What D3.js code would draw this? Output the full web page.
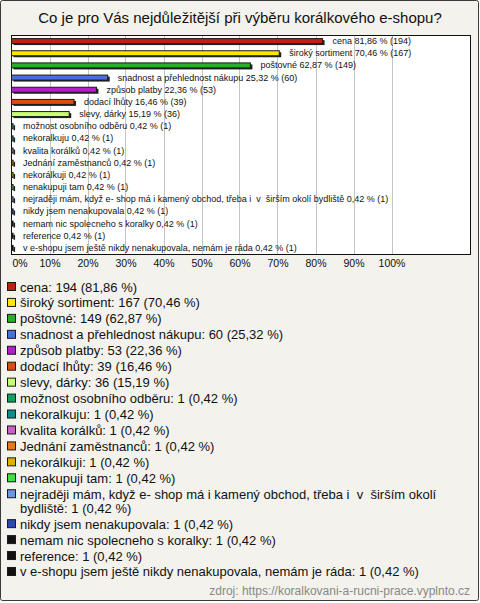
<!DOCTYPE html>
<html><head><meta charset="utf-8">
<script src="https://cdn.jsdelivr.net/npm/d3@7/dist/d3.min.js"></script>
<style>
html,body{margin:0;padding:0;background:#fff;}
svg text{font-family:"Liberation Sans",Arial,sans-serif;white-space:pre;}
</style></head><body>
<script>
const title = "Co je pro Vás nejdůležitější při výběru korálkového e-shopu?";
const categories = [
  "cena","široký sortiment","poštovné","snadnost a přehlednost nákupu","způsob platby",
  "dodací lhůty","slevy, dárky","možnost osobního odběru","nekoralkuju","kvalita korálků",
  "Jednání zaměstnanců","nekorálkuji","nenakupuji tam",
  "nejraději mám, když e- shop má i kamený obchod, třeba i  v  širším okolí bydliště",
  "nikdy jsem nenakupovala","nemam nic spolecneho s koralky","reference",
  "v e-shopu jsem ještě nikdy nenakupovala, nemám je ráda"
];
const counts = [194,167,149,60,53,39,36,1,1,1,1,1,1,1,1,1,1,1];
const percents = [81.86,70.46,62.87,25.32,22.36,16.46,15.19,0.42,0.42,0.42,0.42,0.42,0.42,0.42,0.42,0.42,0.42,0.42];
const colors = ["#c0200c","#ffe600","#22b322","#4a6ee0","#b020c8","#e04a10","#c8ff70","#10a060",
  "#108c8c","#c860c8","#e87818","#e0b000","#40e040","#6a98e0","#2848b0","#111111","#111111","#111111"];
const ticks = [0,10,20,30,40,50,60,70,80,90,100];
const source = "zdroj: https://koralkovani-a-rucni-prace.vyplnto.cz";

const W = 480, H = 603;
const fmt = v => v.toFixed(2).replace(".", ",");
const svg = d3.select("body").append("svg").attr("width", W).attr("height", H);

svg.append("rect").attr("x",0.5).attr("y",0.5).attr("width",W-2).attr("height",H-3)
  .attr("rx",2).attr("fill","#f3f2ec").attr("stroke","#3a3a3a");

svg.append("text").attr("x",W/2).attr("y",23).attr("text-anchor","middle")
  .attr("font-size",15).attr("fill","#111").text(title);

const box = {x0:11, x1:470, y0:35, y1:254};
svg.append("rect").attr("x",box.x0+0.5).attr("y",box.y0+0.5)
  .attr("width",box.x1-box.x0).attr("height",box.y1-box.y0)
  .attr("fill","#fff").attr("stroke","#111");

const x = d3.scaleLinear().domain([0,100]).range([box.x0+0.5, box.x0+380.5]);
const y = d3.scaleBand().domain(categories).range([box.y0, box.y1]).padding(0);

const g = svg.append("g");
g.selectAll("line.grid").data(ticks.filter(t=>t>0)).join("line")
  .attr("x1",d=>Math.round(x(d))+0.5).attr("x2",d=>Math.round(x(d))+0.5)
  .attr("y1",box.y0+1).attr("y2",box.y1)
  .attr("stroke","#c4c4c4");

const axis = d3.axisBottom(x).tickValues(ticks).tickSize(0).tickFormat(d=>d+"%");
const ax = svg.append("g").attr("transform",`translate(0,${box.y1+3})`).call(axis);
ax.select(".domain").remove();
ax.selectAll("text").attr("font-size",10.5).attr("fill","#111")
  .attr("font-family","Liberation Sans, Arial, sans-serif");
ax.selectAll(".tick").filter(d=>d===0).select("text").attr("text-anchor","start").attr("x",-x(0)+12);

const barH = 5;
const bars = g.selectAll("g.bar").data(categories).join("g");
bars.append("rect")
  .attr("x",x(0)+2).attr("y",(d,i)=>y(d)+y.bandwidth()/2-barH/2+1.5)
  .attr("width",(d,i)=>x(percents[i])-x(0)).attr("height",barH)
  .attr("fill","#222");
bars.append("rect")
  .attr("x",x(0)).attr("y",(d,i)=>y(d)+y.bandwidth()/2-barH/2)
  .attr("width",(d,i)=>x(percents[i])-x(0)).attr("height",barH)
  .attr("fill",(d,i)=>colors[i]).attr("stroke","#1a1a1a").attr("stroke-width",1);
bars.append("text")
  .attr("x",(d,i)=>x(percents[i])+10).attr("y",(d,i)=>y(d)+y.bandwidth()/2+3)
  .attr("font-size",9).attr("fill","#111")
  .text((d,i)=>`${d} ${fmt(percents[i])} % (${counts[i]})`);

// legend
const lg = svg.append("g");
let ly = 287;
const maxW = 448;
const wrapDy = 14;
const step = 15.94;
categories.forEach((c,i)=>{
  const label = `${c}: ${counts[i]} (${fmt(percents[i])} %)`;
  lg.append("rect").attr("x",7.5).attr("y",ly-4.5).attr("width",8).attr("height",8)
    .attr("fill",colors[i]).attr("stroke","#1a1a1a");
  const t = lg.append("text").attr("x",20).attr("y",ly+4.5).attr("font-size",13).attr("fill","#111");
  const words = label.split(" ");
  let line = [];
  let lines = [];
  const tmp = t.append("tspan");
  words.forEach(w=>{
    const test = line.concat([w]).join(" ");
    tmp.text(test);
    if (tmp.node().getComputedTextLength() > maxW && line.length) {
      lines.push(line.join(" ")); line = [w];
    } else line.push(w);
  });
  lines.push(line.join(" "));
  tmp.remove();
  lines.forEach((l,k)=>{
    t.append("tspan").attr("x",20).attr("dy",k?wrapDy:0).text(l);
  });
  ly += step + (lines.length-1)*wrapDy;
});

svg.append("text").attr("x",470).attr("y",595).attr("text-anchor","end")
  .attr("font-size",12).attr("fill","#888").text(source);
</script>
</body></html>
